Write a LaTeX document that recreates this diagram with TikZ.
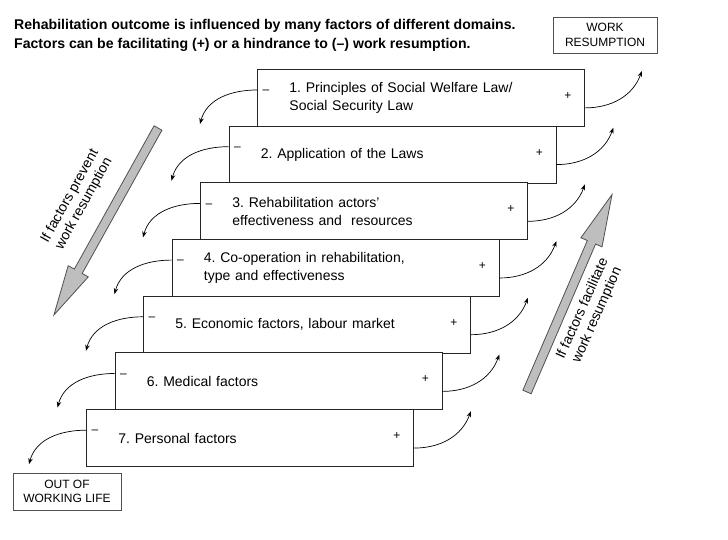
\documentclass[tikz,border=0pt]{standalone}
\usepackage{fontspec}
\setmainfont{Liberation Sans}
\usetikzlibrary{positioning,arrows.meta}
\definecolor{arrowgray}{RGB}{190,190,190}
\definecolor{edgegray}{RGB}{80,80,80}
\frenchspacing

\tikzset{
  stepbox/.style={draw=black!85, fill=white, line width=0.9pt, anchor=north west,
    minimum width=327pt, minimum height=57pt, text width=263pt, align=left,
    inner xsep=0pt, font=\fontsize{14}{18}\selectfont},
  endbox/.style={draw=edgegray, line width=0.8pt, minimum width=104pt,
    minimum height=36pt, inner sep=0pt, align=center, font=\fontsize{12}{14.5}\selectfont},
  signmark/.style={inner sep=0pt, font=\fontsize{12}{12}\selectfont},
  stepflow/.style={-{Stealth[length=6pt,width=4.5pt]}, line width=0.7pt},
  bigarrow/.style={fill=arrowgray, draw=edgegray, line width=0.8pt},
  sidelabel/.style={align=center, font=\fontsize{14}{16}\selectfont},
}

\begin{document}
\begin{tikzpicture}[x=1pt, y=1pt]
  \useasboundingbox (0,0) rectangle (728,540);

  % heading
  \node [anchor=north west, inner sep=0pt, align=left, font=\bfseries\fontsize{14.1}{19}\selectfont] (title) at (14,521)
    {Rehabilitation outcome is influenced by many factors of different domains.\\
     Factors can be facilitating (+) or a hindrance to (\textendash) work resumption.};
  \node [endbox] (work) at (605,505) {WORK\\RESUMPTION};
  \node [endbox, minimum width=108pt, minimum height=37pt] (out) at (67,48.5) {OUT OF\\WORKING LIFE};

  % the seven steps
  \node [stepbox] (b1) at (257,471)   {1. Principles of Social Welfare Law/\\Social Security Law};
  \node [stepbox] (b2) at (228.5,414.3) {2. Application of the Laws};
  \node [stepbox] (b3) at (200,357.6) {3. Rehabilitation actors'\\effectiveness and\ \ resources};
  \node [stepbox] (b4) at (171.5,300.9) {4. Co-operation in rehabilitation,\\type and effectiveness};
  \node [stepbox] (b5) at (143,244.2) {5. Economic factors, labour market};
  \node [stepbox] (b6) at (114.5,187.5) {6. Medical factors};
  \node [stepbox] (b7) at (86,130.8)  {7. Personal factors};

  \foreach \i in {1,...,7} {
    \node [signmark] (m\i) at ([xshift=9pt,yshift=-23pt]b\i.north west) {\textendash};
    \node [signmark] (p\i) at ([xshift=-17pt,yshift=-27pt]b\i.north east) {+};
    \coordinate (lt\i) at ([xshift=-57pt,yshift=-55pt]b\i.north west);
    \coordinate (rt\i) at ([xshift=57pt,yshift=-2pt]b\i.north east);
    \draw [stepflow] ([yshift=-21pt]b\i.north west) to[out=180,in=75] (lt\i);
    \draw [stepflow] ([yshift=19pt]b\i.south east) to[out=0,in=250] (rt\i);
  }

  % big arrows
  \begin{scope}[shift={(158,412)}, rotate=240.9]
    \draw [bigarrow] (0,-4.5) -- (164,-4.5) -- (164,-11.5) -- (214,0) -- (164,11.5) -- (164,4.5) -- (0,4.5) -- cycle;
  \end{scope}
  \begin{scope}[shift={(527,148)}, rotate=66.7]
    \draw [bigarrow] (0,-4.5) -- (163,-4.5) -- (163,-11.5) -- (215,0) -- (163,11.5) -- (163,4.5) -- (0,4.5) -- cycle;
  \end{scope}
  \node [sidelabel, rotate=61] (prevent) at (77,340) {If factors prevent\\work resumption};
  \node [sidelabel, rotate=66] (facil) at (590,228) {If factors facilitate\\work resumption};
\end{tikzpicture}
\end{document}
